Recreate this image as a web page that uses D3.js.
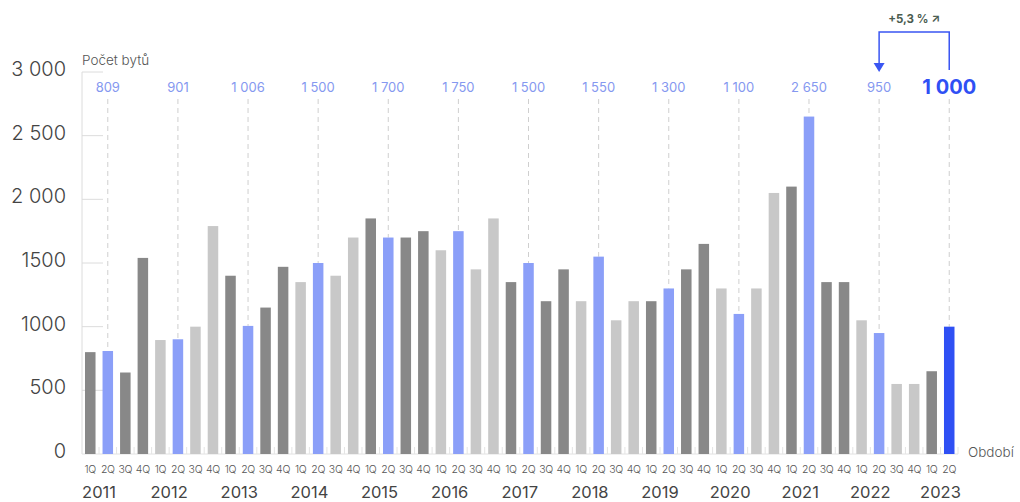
<!DOCTYPE html>
<html>
<head>
<meta charset="utf-8">
<script src="https://cdn.jsdelivr.net/npm/d3@7"></script>
<style>
  body { margin: 0; background: #fff; }
  text { font-family: "Inter", "Lato", sans-serif; }
</style>
</head>
<body>
<div class="chart"></div>
<script>
/*
----------------------------------------------------------
                   data
----------------------------------------------------------
*/
var years = ["2011","2012","2013","2014","2015","2016","2017","2018","2019","2020","2021","2022","2023"];
var quarters = ["1Q","2Q","3Q","4Q"];
var values = [
	800, 809, 640, 1540,
	895, 901, 1000, 1790,
	1400, 1006, 1150, 1470,
	1350, 1500, 1400, 1700,
	1850, 1700, 1700, 1750,
	1600, 1750, 1450, 1850,
	1350, 1500, 1200, 1450,
	1200, 1550, 1050, 1200,
	1200, 1300, 1450, 1650,
	1300, 1100, 1300, 2050,
	2100, 2650, 1350, 1350,
	1050, 950, 550, 550,
	650, 1000
];
var topLabels = ["809","901","1 006","1 500","1 700","1 750","1 500","1 550","1 300","1 100","2 650","950","1 000"];
var yTicks = [0, 500, 1000, 1500, 2000, 2500, 3000];
var yTickLabels = ["0", "500", "1000", "1500", "2 000", "2 500", "3 000"];
var change = "+5,3 % \u2197";

/*
----------------------------------------------------------
                   chart
----------------------------------------------------------
*/
var width = 1020, height = 502;
var colors = { dark: "#888888", light: "#c8c8c8", blue: "#8b9ff8", last: "#2f50f4" };

var bars = values.map(function(v, i) {
	return { key: years[Math.floor(i / 4)] + "-" + quarters[i % 4], year: Math.floor(i / 4), q: i % 4, value: v, i: i };
});

var svg = d3.select(".chart").append("svg")
	.attr("width", width).attr("height", height);

var x = d3.scaleBand()
	.domain(bars.map(function(d) { return d.key; }))
	.range([81.5, 958])
	.paddingInner(0.4)
	.paddingOuter(0.2);

var y = d3.scaleLinear().domain([0, 3000]).range([454, 72]);

function barColor(d) {
	if (d.i == bars.length - 1) return colors.last;
	if (d.q == 1) return colors.blue;
	return d.year % 2 == 0 ? colors.dark : colors.light;
}

// y axis
var yAxis = svg.append("g").attr("class", "y-axis");
yAxis.append("line")
	.attr("x1", 82).attr("x2", 82)
	.attr("y1", y(3000)).attr("y2", y(0))
	.attr("stroke", "#dcdcdc").attr("stroke-width", 1);
yAxis.selectAll(".tick").data(yTicks.slice(1)).enter()
	.append("line")
		.attr("x1", 82).attr("x2", 103)
		.attr("y1", function(d) { return y(d); })
		.attr("y2", function(d) { return y(d); })
		.attr("stroke", "#dcdcdc");
yAxis.selectAll(".label").data(yTicks).enter()
	.append("text")
		.attr("x", 66)
		.attr("y", function(d) { return y(d) + 4; })
		.attr("text-anchor", "end")
		.attr("font-size", 20)
		.attr("font-weight", 300)
		.attr("fill", "#444")
		.text(function(d, i) { return yTickLabels[i]; });

svg.append("text")
	.attr("x", 82).attr("y", 65)
	.attr("font-size", 13.5).attr("font-weight", 300).attr("fill", "#555")
	.text("Počet bytů");

// baseline and small ticks
svg.append("line")
	.attr("x1", 82).attr("x2", 958)
	.attr("y1", y(0)).attr("y2", y(0))
	.attr("stroke", "#e2e2e2");
svg.selectAll(".xtick").data(bars).enter()
	.append("line")
		.attr("x1", function(d) { return x(d.key) + x.bandwidth() + x.step() * 0.2; })
		.attr("x2", function(d) { return x(d.key) + x.bandwidth() + x.step() * 0.2; })
		.attr("y1", y(0) - 7).attr("y2", y(0))
		.attr("stroke", "#e4e4e4");

svg.append("text")
	.attr("x", 968).attr("y", 457)
	.attr("font-size", 13.5).attr("font-weight", 300).attr("fill", "#555")
	.text("Období");

// dashed guides from 2Q bars
var second = bars.filter(function(d) { return d.q == 1; });
svg.selectAll(".guide").data(second).enter()
	.append("line")
		.attr("x1", function(d) { return x(d.key) + x.bandwidth() / 2; })
		.attr("x2", function(d) { return x(d.key) + x.bandwidth() / 2; })
		.attr("y1", 99)
		.attr("y2", function(d) { return y(d.value); })
		.attr("stroke", "#cfcfcf")
		.attr("stroke-dasharray", "5,4");

// bars
svg.selectAll(".bar").data(bars).enter()
	.append("rect")
		.attr("x", function(d) { return x(d.key); })
		.attr("y", function(d) { return y(d.value); })
		.attr("width", x.bandwidth())
		.attr("height", function(d) { return y(0) - y(d.value); })
		.attr("fill", barColor);

// top labels
svg.selectAll(".top").data(second).enter()
	.append("text")
		.attr("x", function(d) { return x(d.key) + x.bandwidth() / 2; })
		.attr("y", function(d, i) { return i == second.length - 1 ? 94 : 92; })
		.attr("text-anchor", "middle")
		.attr("font-size", function(d, i) { return i == second.length - 1 ? 20 : 13; })
		.attr("font-weight", function(d, i) { return i == second.length - 1 ? 700 : 400; })
		.attr("fill", function(d, i) { return i == second.length - 1 ? colors.last : "#8598f0"; })
		.text(function(d, i) { return topLabels[i]; });

// quarter labels
svg.selectAll(".qlabel").data(bars).enter()
	.append("text")
		.attr("x", function(d) { return x(d.key) + x.bandwidth() / 2; })
		.attr("y", 473)
		.attr("text-anchor", "middle")
		.attr("font-size", 10.5)
		.attr("font-weight", 300)
		.attr("letter-spacing", -0.3)
		.attr("fill", "#555")
		.text(function(d) { return quarters[d.q]; });

// year labels
svg.selectAll(".ylabel").data(years).enter()
	.append("text")
		.attr("x", function(d) { return x(d + "-1Q") + x.bandwidth() / 2 + x.step() / 2; })
		.attr("y", 498)
		.attr("text-anchor", "middle")
		.attr("font-size", 16.5)
		.attr("font-weight", 400)
		.attr("fill", "#444")
		.text(function(d) { return d; });

// change annotation
var prev = second[second.length - 2], last = second[second.length - 1];
var px = x(prev.key) + x.bandwidth() / 2;
var lx = x(last.key) + x.bandwidth() / 2;
svg.append("path")
	.attr("d", "M " + lx + " 70 L " + lx + " 32 L " + px + " 32 L " + px + " 64")
	.attr("fill", "none")
	.attr("stroke", "#3a56f2")
	.attr("stroke-width", 1.5);
svg.append("path")
	.attr("d", "M " + (px - 5.5) + " 63 L " + (px + 5.5) + " 63 L " + px + " 72 z")
	.attr("fill", "#3a56f2");
svg.append("text")
	.attr("x", (px + lx) / 2).attr("y", 23)
	.attr("text-anchor", "middle")
	.attr("font-size", 11.5).attr("font-weight", 700)
	.attr("fill", "#4a5c50")
	.text(change);
</script>
</body>
</html>
